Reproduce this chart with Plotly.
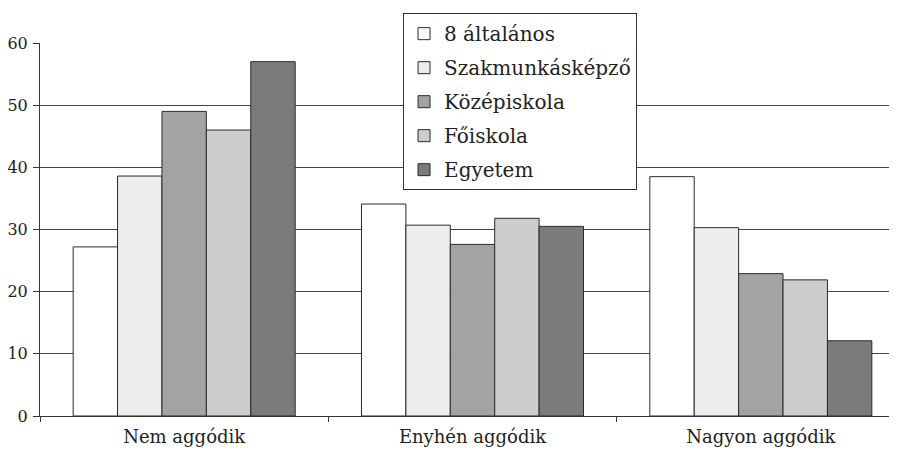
import plotly.graph_objects as go

categories = ["Nem aggódik", "Enyhén aggódik", "Nagyon aggódik"]
series_names = ["8 általános", "Szakmunkásképző", "Középiskola", "Főiskola", "Egyetem"]
v_altalanos = [27.2, 34.1, 38.5]
v_szakmunkas = [38.6, 30.7, 30.3]
v_kozepiskola = [49.0, 27.6, 22.9]
v_foiskola = [46.0, 31.8, 21.9]
v_egyetem = [57.0, 30.5, 12.1]
y_ticks = [0, 10, 20, 30, 40, 50, 60]

values = [v_altalanos, v_szakmunkas, v_kozepiskola, v_foiskola, v_egyetem]
colors = ["#ffffff", "#ededed", "#a3a3a3", "#cdcdcd", "#7b7b7b"]

FONT = "DejaVu Serif, serif"

fig = go.Figure()
for i, (name, vals, col) in enumerate(zip(series_names, values, colors)):
    fig.add_trace(go.Bar(
        x=categories, y=vals, name=name, legendgroup=f"g{i}",
        marker=dict(color=col, line=dict(color="#2a2a2a", width=1)),
    ))

# page body has an 8px default margin; margins below compensate for it
fig.update_layout(
    width=897, height=452,
    margin=dict(l=32, r=0, t=35, b=44, autoexpand=False),
    paper_bgcolor="white", plot_bgcolor="white",
    barmode="group", bargap=0.23, bargroupgap=0,
    font=dict(family=FONT, size=18, color="#222"),
    showlegend=True,
    legend=dict(
        x=0.4197, y=1.08, xanchor="left", yanchor="top",
        bgcolor="white", bordercolor="#333", borderwidth=1,
        font=dict(family=FONT, size=20, color="#222"),
        traceorder="grouped", tracegroupgap=5,
    ),
    xaxis=dict(
        automargin=False,
        showline=True, linecolor="#333", linewidth=1,
        ticks="outside", tickson="boundaries", ticklen=5, tickcolor="#333",
        ticklabelstandoff=4,
        showgrid=False, tickfont=dict(family=FONT, size=18, color="#222"),
    ),
    yaxis=dict(
        automargin=False,
        range=[0, 60], tickvals=y_ticks, showline=True, linecolor="#333", linewidth=1,
        ticks="outside", ticklen=6, tickcolor="#333",
        ticklabelstandoff=2,
        showgrid=True, gridcolor="#444", gridwidth=1,
        zeroline=False,
        tickfont=dict(family=FONT, size=16, color="#222"),
    ),
)

fig.write_html("out.html")
